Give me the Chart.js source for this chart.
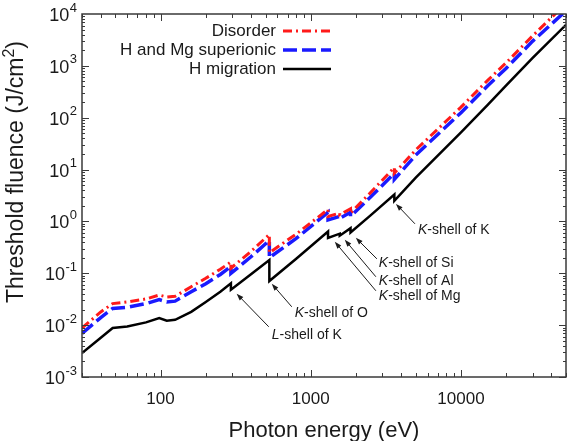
<!DOCTYPE html>
<html>
<head>
<meta charset="utf-8">
<script src="https://cdn.jsdelivr.net/npm/chart.js@4.4.1/dist/chart.umd.min.js"></script>
<style>
    html, body { margin: 0; padding: 0; background: #fff; }
    #wrap { width: 569px; height: 441px; }
</style>
</head>
<body>
<div id="wrap"><canvas id="fluence-chart" width="569" height="441"></canvas></div>
<script>
// photon energy (eV); a repeated value is an absorption edge
const energy = [30, 40, 48, 60, 80, 98, 110, 125, 160, 200, 250, 294, 294, 400, 530, 530, 800,
    1303, 1303, 1559, 1559, 1839, 1839, 2500, 3600, 3600, 5000, 10000, 15000, 20000, 30000, 50000];

// threshold fluence (J/cm2)
const disorder = [0.0088, 0.018, 0.026, 0.028, 0.032, 0.038, 0.035, 0.036, 0.055, 0.08, 0.12, 0.165, 0.125,
    0.265, 0.56, 0.25, 0.57, 1.7, 1.25, 1.45, 1.35, 1.75, 1.45, 3.6, 11, 8.5, 24, 160, 520, 1150, 3800, 16000];
const superionic = [0.0069, 0.014, 0.021, 0.022, 0.026, 0.031, 0.028, 0.029, 0.044, 0.063, 0.095, 0.135, 0.1,
    0.208, 0.43, 0.2, 0.47, 1.5, 1.07, 1.25, 1.15, 1.5, 1.25, 2.95, 8.5, 6.5, 19, 125, 410, 900, 3000, 11500];
const migration = [0.0029, 0.0057, 0.0088, 0.0094, 0.0113, 0.0137, 0.0122, 0.0127, 0.018, 0.028, 0.044, 0.064, 0.048,
    0.096, 0.18, 0.071, 0.19, 0.64, 0.48, 0.58, 0.53, 0.74, 0.61, 1.31, 3.3, 2.5, 7.0, 52, 175, 420, 1420, 6200];

const seriesNames = ['Disorder', 'H and Mg superionic', 'H migration'];

// axis labels
const xTickLabels = [100, 1000, 10000];
const yTickPowers = [-3, -2, -1, 0, 1, 2, 3, 4];

// edge annotations: arrow tip, arrow tail and label start, in data units
const edgeNotes = [
    { shell: 'K', rest: '-shell of K',  tip: [3690, 2.18],  tail: [4935, 0.9],    label: [5170, 0.69] },
    { shell: 'K', rest: '-shell of Si', tip: [1995, 0.483], tail: [2754, 0.19],   label: [2840, 0.159] },
    { shell: 'K', rest: '-shell of Al', tip: [1685, 0.442], tail: [2712, 0.0857], label: [2840, 0.0701] },
    { shell: 'K', rest: '-shell of Mg', tip: [1445, 0.405], tail: [2712, 0.046],  label: [2840, 0.036] },
    { shell: 'K', rest: '-shell of O',  tip: [550, 0.0628], tail: [747, 0.0226],  label: [782, 0.0173] },
    { shell: 'L', rest: '-shell of K',  tip: [321, 0.0403], tail: [525, 0.0093],  label: [550, 0.00653] }
];

const FONT = 'Arial, "Liberation Sans", sans-serif';
const INK = '#1a1a1a';

const toPoints = (ys) => energy.map((e, i) => ({ x: e, y: ys[i] }));

const decorPlugin = {
    id: 'decor',
    afterDraw(chart) {
        const { ctx, chartArea: a, scales: { x, y } } = chart;
        ctx.save();

        // frame
        ctx.strokeStyle = '#3a3a3a';
        ctx.lineWidth = 1.5;
        ctx.strokeRect(a.left, a.top, a.right - a.left, a.bottom - a.top);

        // inward ticks on all four sides
        ctx.lineWidth = 1;
        ctx.beginPath();
        for (let p = 1; p <= 4; p++) {
            for (let k = 1; k <= 9; k++) {
                const v = k * Math.pow(10, p);
                if (v < x.min || v > x.max) continue;
                const px = Math.round(x.getPixelForValue(v)) + 0.5;
                const len = k === 1 ? 7 : 4;
                ctx.moveTo(px, a.bottom); ctx.lineTo(px, a.bottom - len);
                ctx.moveTo(px, a.top); ctx.lineTo(px, a.top + len);
            }
        }
        for (let p = -3; p <= 3; p++) {
            for (let k = 1; k <= 9; k++) {
                const v = k * Math.pow(10, p);
                const py = Math.round(y.getPixelForValue(v)) + 0.5;
                const len = k === 1 ? 7 : 3;
                ctx.moveTo(a.left, py); ctx.lineTo(a.left + len, py);
                ctx.moveTo(a.right, py); ctx.lineTo(a.right - len, py);
            }
        }
        ctx.stroke();

        ctx.fillStyle = INK;

        // x tick labels
        ctx.font = '17px ' + FONT;
        ctx.textAlign = 'center';
        ctx.textBaseline = 'middle';
        xTickLabels.forEach(v => {
            ctx.fillText(String(v), x.getPixelForValue(v), a.bottom + 22);
        });

        // y tick labels as 10^n
        yTickPowers.forEach(p => {
            const py = y.getPixelForValue(Math.pow(10, p));
            const exp = String(p);
            ctx.font = '13px ' + FONT;
            const ew = ctx.measureText(exp).width;
            const right = a.left - 5;
            ctx.textAlign = 'right';
            ctx.textBaseline = 'middle';
            ctx.font = '18px ' + FONT;
            ctx.fillText('10', right - ew - 0.5, py + 2);
            ctx.textAlign = 'left';
            ctx.font = '13px ' + FONT;
            ctx.fillText(exp, right - ew, py - 6);
        });

        // x title
        ctx.font = '22px ' + FONT;
        ctx.textAlign = 'center';
        ctx.textBaseline = 'middle';
        ctx.fillText('Photon energy (eV)', (a.left + a.right) / 2, a.bottom + 54);

        // y title, rotated, with superscript 2
        const t1 = 'Threshold fluence (J/cm', t2 = '2', t3 = ')';
        ctx.font = '23px ' + FONT;
        const w1 = ctx.measureText(t1).width, w3 = ctx.measureText(t3).width;
        ctx.font = '16px ' + FONT;
        const w2 = ctx.measureText(t2).width;
        const total = w1 + w2 + w3;
        ctx.translate(17, 172);
        ctx.rotate(-Math.PI / 2);
        ctx.textAlign = 'left';
        ctx.textBaseline = 'middle';
        ctx.font = '23px ' + FONT;
        ctx.fillText(t1, -total / 2, 0);
        ctx.fillText(t3, -total / 2 + w1 + w2, 0);
        ctx.font = '16px ' + FONT;
        ctx.fillText(t2, -total / 2 + w1, -7);
        ctx.setTransform(1, 0, 0, 1, 0, 0);

        // legend: text right-aligned, line sample on its right
        chart.data.datasets.forEach((ds, i) => {
            const rowY = a.top + 17 + i * 19;
            ctx.font = '17px ' + FONT;
            ctx.fillStyle = INK;
            ctx.textAlign = 'right';
            ctx.textBaseline = 'middle';
            ctx.fillText(ds.label, a.left + 194, rowY);
            ctx.beginPath();
            ctx.strokeStyle = ds.borderColor;
            ctx.lineWidth = ds.borderWidth;
            ctx.setLineDash(ds.borderDash || []);
            ctx.moveTo(a.left + 201, rowY);
            ctx.lineTo(a.left + 249, rowY);
            ctx.stroke();
            ctx.setLineDash([]);
        });

        // edge annotations with arrows
        ctx.strokeStyle = INK;
        ctx.fillStyle = INK;
        ctx.lineWidth = 1;
        edgeNotes.forEach(n => {
            const tx = x.getPixelForValue(n.tip[0]), ty = y.getPixelForValue(n.tip[1]);
            const sx = x.getPixelForValue(n.tail[0]), sy = y.getPixelForValue(n.tail[1]);
            const ang = Math.atan2(ty - sy, tx - sx);
            ctx.beginPath();
            ctx.moveTo(sx, sy);
            ctx.lineTo(tx - 4 * Math.cos(ang), ty - 4 * Math.sin(ang));
            ctx.stroke();
            ctx.beginPath();
            ctx.moveTo(tx, ty);
            ctx.lineTo(tx - 7 * Math.cos(ang) + 2.5 * Math.sin(ang), ty - 7 * Math.sin(ang) - 2.5 * Math.cos(ang));
            ctx.lineTo(tx - 7 * Math.cos(ang) - 2.5 * Math.sin(ang), ty - 7 * Math.sin(ang) + 2.5 * Math.cos(ang));
            ctx.closePath();
            ctx.fill();

            const lx = x.getPixelForValue(n.label[0]), ly = y.getPixelForValue(n.label[1]);
            ctx.textAlign = 'left';
            ctx.textBaseline = 'middle';
            ctx.font = 'italic 14px ' + FONT;
            ctx.fillText(n.shell, lx, ly);
            const kw = ctx.measureText(n.shell).width;
            ctx.font = '14px ' + FONT;
            ctx.fillText(n.rest, lx + kw, ly);
        });

        ctx.restore();
    }
};

const ctx = document.getElementById('fluence-chart').getContext('2d');
new Chart(ctx, {
    type: 'line',
    data: {
        datasets: [
            {
                label: seriesNames[0],
                data: toPoints(disorder),
                borderColor: '#ff1a1a',
                borderWidth: 3,
                borderDash: [9, 4, 2, 4]
            },
            {
                label: seriesNames[1],
                data: toPoints(superionic),
                borderColor: '#1a1aff',
                borderWidth: 3.5,
                borderDash: [14, 5]
            },
            {
                label: seriesNames[2],
                data: toPoints(migration),
                borderColor: '#000000',
                borderWidth: 2.5
            }
        ]
    },
    options: {
        responsive: false,
        animation: false,
        devicePixelRatio: 1,
        elements: {
            point: { radius: 0 },
            line: { tension: 0, fill: false }
        },
        layout: { padding: { left: 82, right: 3, top: 14, bottom: 64 } },
        plugins: {
            legend: { display: false },
            title: { display: false },
            tooltip: { enabled: false }
        },
        scales: {
            x: { type: 'logarithmic', min: 30, max: 50000, display: false },
            y: { type: 'logarithmic', min: 0.001, max: 10000, display: false }
        }
    },
    plugins: [decorPlugin]
});
</script>
</body>
</html>
